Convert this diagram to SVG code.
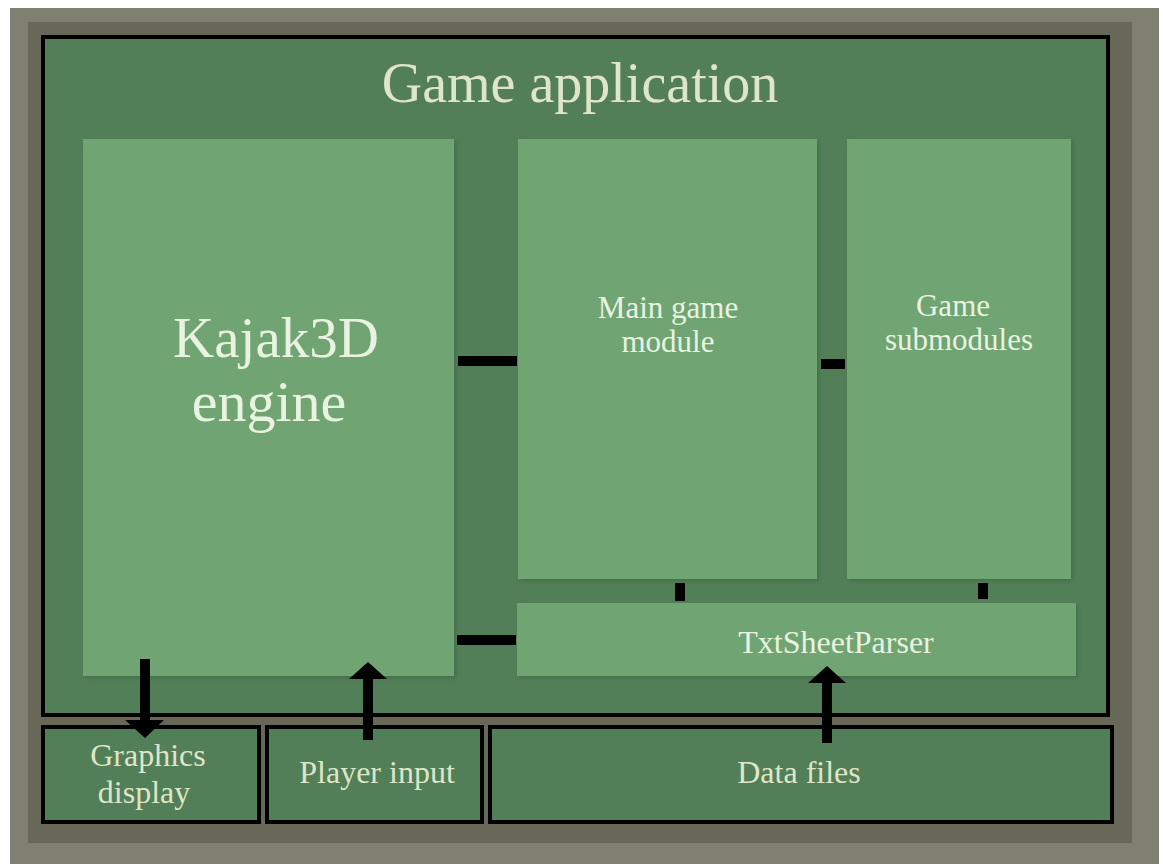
<svg xmlns="http://www.w3.org/2000/svg" width="1163" height="864" viewBox="0 0 1163 864">
<defs>
<style>
.lbl{font-family:"Liberation Serif","Times New Roman",serif;text-anchor:middle}
.onlight{fill:#e8f3e0}
.ondark{fill:#dfe5c8}
.light{fill:#71a473}
.dark{fill:#527f57;stroke:#000;stroke-width:4}
.bar{fill:#000}
</style>
<filter id="sh" x="-5%" y="-5%" width="110%" height="110%">
<feDropShadow dx="2" dy="2" stdDeviation="2" flood-color="#3f6a45" flood-opacity="0.8"/>
</filter>
</defs>
<rect x="0" y="0" width="1163" height="864" fill="#ffffff"/>
<rect x="10" y="8" width="1149" height="856" fill="#808070"/>
<rect x="28" y="22" width="1104" height="821" fill="#686859"/>

<g id="game-application">
<rect class="dark" x="43" y="37" width="1065" height="678"/>
<text class="lbl ondark" x="580" y="102" font-size="56">Game application</text>
</g>

<g id="kajak3d-engine">
<rect class="light" x="83" y="139" width="371" height="537" filter="url(#sh)"/>
<text class="lbl onlight" x="276" y="357" font-size="57">Kajak3D</text>
<text class="lbl onlight" x="269" y="421" font-size="58">engine</text>
</g>

<g id="main-game-module">
<rect class="light" x="518" y="139" width="299" height="440" filter="url(#sh)"/>
<text class="lbl onlight" x="668" y="318" font-size="31">Main game</text>
<text class="lbl onlight" x="668" y="352" font-size="31">module</text>
</g>

<g id="game-submodules">
<rect class="light" x="847" y="139" width="224" height="440" filter="url(#sh)"/>
<text class="lbl onlight" x="953" y="316" font-size="31">Game</text>
<text class="lbl onlight" x="959" y="350" font-size="31">submodules</text>
</g>

<g id="txtsheetparser">
<rect class="light" x="517" y="603" width="559" height="73" filter="url(#sh)"/>
<text class="lbl onlight" x="836" y="653" font-size="32">TxtSheetParser</text>
</g>

<g id="graphics-display">
<rect class="dark" x="43" y="727" width="216" height="95"/>
<text class="lbl ondark" x="148" y="766" font-size="32">Graphics</text>
<text class="lbl ondark" x="144" y="803" font-size="32">display</text>
</g>

<g id="player-input">
<rect class="dark" x="267" y="727" width="215" height="95"/>
<text class="lbl ondark" x="377" y="783" font-size="32">Player input</text>
</g>

<g id="data-files">
<rect class="dark" x="490" y="727" width="622" height="95"/>
<text class="lbl ondark" x="799" y="783" font-size="32">Data files</text>
</g>

<g id="connectors">
<rect class="bar" x="458" y="356" width="59" height="10"/>
<rect class="bar" x="821" y="359" width="24" height="10"/>
<rect class="bar" x="457" y="635" width="59" height="10"/>
<rect class="bar" x="675" y="583" width="10" height="18"/>
<rect class="bar" x="978" y="583" width="10" height="16"/>
<polygon class="bar" points="140,659 150,659 150,720 164,720 145,738 125,720 140,720"/>
<polygon class="bar" points="363,740 373,740 373,679 387,679 368,662 349,679 363,679"/>
<polygon class="bar" points="822,743 832,743 832,683 846,683 827,666 808,683 822,683"/>
</g>
</svg>
